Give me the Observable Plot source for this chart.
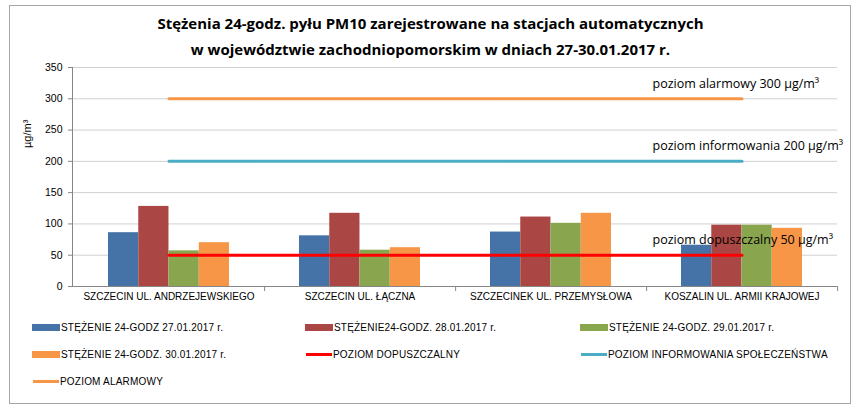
<!DOCTYPE html>
<html>
<head>
<meta charset="utf-8">
<script src="https://cdn.jsdelivr.net/npm/d3@7"></script>
<script src="https://cdn.jsdelivr.net/npm/@observablehq/plot@0.6"></script>
<style>
  html, body { margin: 0; padding: 0; background: #fff; }
  #wrap { position: relative; width: 861px; height: 416px; overflow: hidden; font-family: "Liberation Sans", Arial, sans-serif; }
  #frame { position: absolute; left: 9px; top: 5px; width: 842px; height: 399px; border: 1px solid #a6a6a6; box-sizing: border-box; }
  #title { position: absolute; left: 0; top: 10px; width: 861px; text-align: center; font-family: "Open Sans", sans-serif; font-weight: 700; font-size: 15px; line-height: 26px; color: #000; }
  #chart { position: absolute; left: 0; top: 60px; }
  #legend { position: absolute; left: 32px; top: 314px; width: 830px; display: grid; grid-template-columns: 273px 275px 260px; grid-auto-rows: 27px; font-size: 10px; color: #000; letter-spacing: 0.2px; }
  .item { display: flex; align-items: center; white-space: nowrap; }
  .sw { display: inline-block; width: 28px; height: 7px; margin-right: 1px; }
  .ln { display: inline-block; width: 26px; height: 3px; margin-right: 1px; margin-left: 1px; }
</style>
</head>
<body>
<div id="wrap">
  <div id="frame"></div>
  <div id="title">Stężenia 24-godz. pyłu PM10 zarejestrowane na stacjach automatycznych<br>w województwie zachodniopomorskim w dniach 27-30.01.2017 r.</div>
  <div id="chart"></div>
  <div id="legend"></div>
</div>
<script>
// Data
const categories = ["SZCZECIN UL. ANDRZEJEWSKIEGO", "SZCZECIN UL. ŁĄCZNA", "SZCZECINEK UL. PRZEMYSŁOWA", "KOSZALIN UL. ARMII KRAJOWEJ"];
const seriesNames = ["STĘŻENIE 24-GODZ 27.01.2017 r.", "STĘŻENIE24-GODZ. 28.01.2017 r.", "STĘŻENIE 24-GODZ. 29.01.2017 r.", "STĘŻENIE 24-GODZ. 30.01.2017 r."];
const values27 = [86, 81, 87, 66];
const values28 = [128, 117, 111, 98];
const values29 = [57, 58, 101, 98];
const values30 = [70, 62, 117, 93];
const levelNames = ["POZIOM DOPUSZCZALNY", "POZIOM INFORMOWANIA SPOŁECZEŃSTWA", "POZIOM ALARMOWY"];
const levelValues = [50, 200, 300];
const levelLabels = ["poziom dopuszczalny 50 µg/m³", "poziom informowania 200 µg/m³", "poziom alarmowy 300 µg/m³"];
const yTicks = [0, 50, 100, 150, 200, 250, 300, 350];

const barColors = ["#4572A7", "#AA4643", "#89A54E", "#F79646"];
const lineColors = ["#FF0000", "#4BACC6", "#F79646"];

const seriesValues = [values27, values28, values29, values30];

const width = 861, height = 245;
const marginLeft = 72, marginRight = 24, marginTop = 7, marginBottom = 19;
const pad = 0.367;
const step = (width - marginLeft - marginRight) / categories.length;
const bw = step * (1 - pad);
const q = bw / 4;

const marks = [];
// grid
marks.push(Plot.ruleY(yTicks.filter(d => d > 0), {stroke: "#d0d0d0", strokeWidth: 1}));
// bars
seriesValues.forEach((vals, i) => {
  const rows = categories.map((c, j) => ({cat: c, v: vals[j]}));
  marks.push(Plot.barY(rows, {x: "cat", y: "v", fill: barColors[i], insetLeft: i * q, insetRight: (3 - i) * q}));
});
// baseline
marks.push(Plot.ruleY([0], {stroke: "#868686"}));
// category separators (tick marks below axis)
marks.push(Plot.ruleX(categories, {x: d => d, dx: step / 2, y1: 0, y2: 0, insetBottom: -5, stroke: "#868686"}));
// threshold lines
levelValues.forEach((lv, i) => {
  const rows = categories.map(c => ({cat: c, v: lv}));
  marks.push(Plot.line(rows, {x: "cat", y: "v", stroke: lineColors[i], strokeWidth: 3}));
});
// threshold labels
levelValues.forEach((lv, i) => {
  marks.push(Plot.text([levelLabels[i]], {text: d => d, y: () => lv, frameAnchor: "right", textAnchor: "start", dx: -185, dy: -15, fontSize: 12.5, fill: "#000", fontFamily: "Open Sans, sans-serif"}));
});
// y-axis
marks.push(Plot.axisY({ticks: yTicks, tickSize: 4, tickPadding: 6, label: null, fontSize: 10.5, stroke: "#868686", fill: "#000"}));
marks.push(Plot.frame({anchor: "left", stroke: "#868686"}));
marks.push(Plot.text(["µg/m³"], {text: d => d, frameAnchor: "left", dx: -45, dy: -29, rotate: -90, fontSize: 11, fill: "#000"}));
// x-axis
marks.push(Plot.axisX({tickSize: 0, tickPadding: 6, label: null, fontSize: 10, fill: "#000"}));

const chart = Plot.plot({
  width, height, marginLeft, marginRight, marginTop, marginBottom,
  style: {fontFamily: "Liberation Sans, Arial, sans-serif", background: "transparent", overflow: "visible"},
  x: {type: "band", domain: categories, paddingInner: pad, paddingOuter: pad / 2},
  y: {type: "linear", domain: [0, 350]},
  marks
});
document.getElementById("chart").appendChild(chart);

// legend
const legendItems = [
  ...seriesNames.map((n, i) => ({name: n, color: barColors[i], kind: "bar"})),
  ...levelNames.map((n, i) => ({name: n, color: lineColors[i], kind: "line"}))
];
const leg = document.getElementById("legend");
legendItems.forEach(it => {
  const d = document.createElement("div");
  d.className = "item";
  const s = document.createElement("span");
  s.className = it.kind === "bar" ? "sw" : "ln";
  s.style.background = it.color;
  d.appendChild(s);
  d.appendChild(document.createTextNode(it.name));
  leg.appendChild(d);
});
</script>
</body>
</html>
